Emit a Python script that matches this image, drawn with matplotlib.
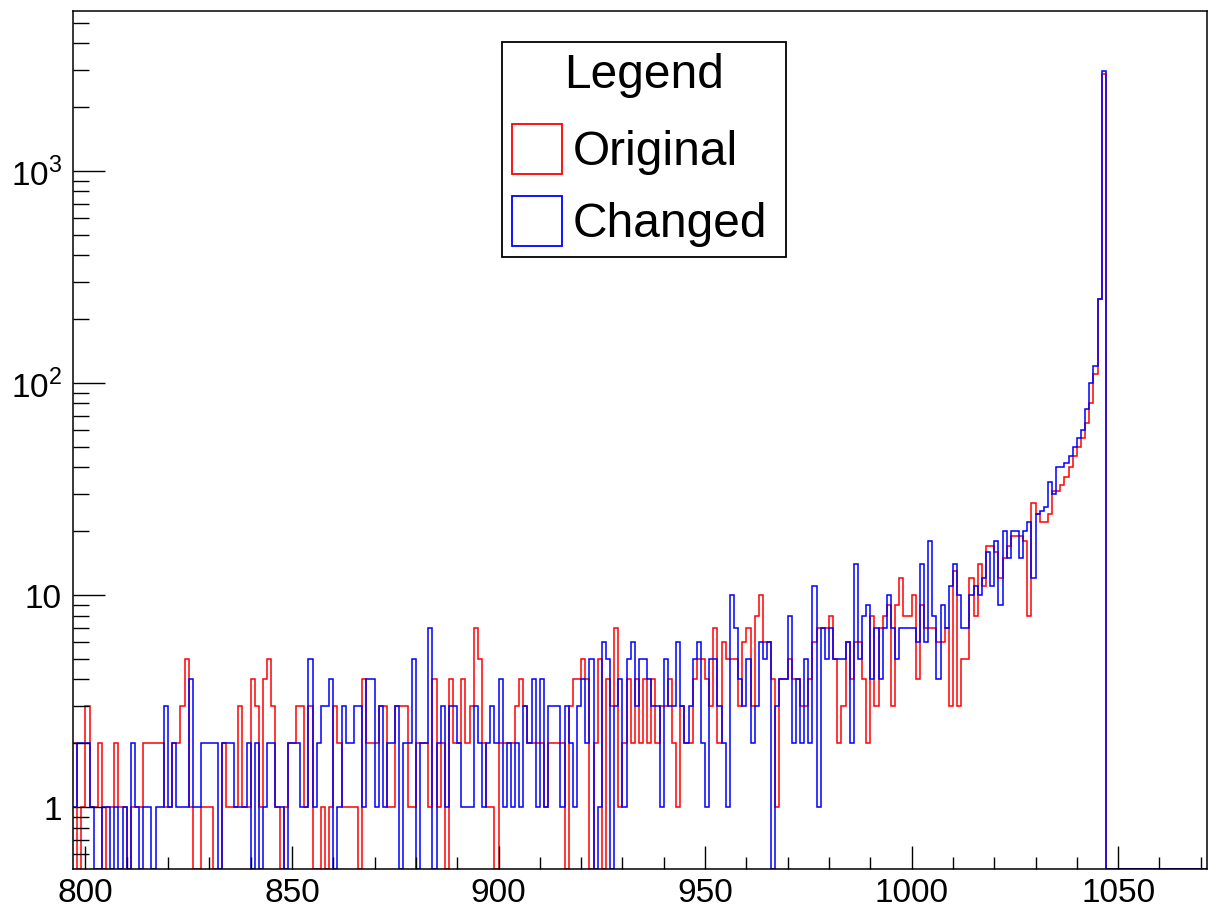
import numpy as np
import matplotlib
matplotlib.use('Agg')
import matplotlib.pyplot as plt
from matplotlib.patches import Rectangle
from matplotlib.transforms import Affine2D
from matplotlib.ticker import FixedLocator, FixedFormatter, MultipleLocator, NullFormatter

plt.rcParams['font.family'] = ['Liberation Sans', 'DejaVu Sans']
plt.rcParams['mathtext.fontset'] = 'custom'
plt.rcParams['mathtext.rm'] = 'Liberation Sans'

# ── Data: 1-unit bins starting at 797 ────────────────────────
first_bin = 797
original = [
    2, 0, 1, 3, 1, 1, 2, 0, 1, 1, 2, 1, 1, 0, 1, 1, 1, 2, 2, 2,          # 797-816
    2, 2, 1, 1, 2, 2, 3, 5, 1, 0,                                        # 817-826
    0, 1, 1, 1, 0, 0, 2, 1, 1, 1, 3, 1, 1, 4, 3, 1, 4, 5, 3, 1,          # 827-846
    0, 1, 2, 2, 3, 3, 1, 3, 0,                                           # 847-855
    0, 1, 0, 1, 3, 2, 1, 1, 1, 1, 0, 4, 2, 2, 2, 3, 3, 1, 1, 3,          # 856-875
    3, 3, 1, 1, 2, 2, 2, 1, 4,                                           # 876-884
    1, 2, 0, 4, 2, 2, 4, 2, 3, 7, 5, 2, 1, 1, 0, 2, 2, 2, 2, 3,          # 885-904
    4, 3, 2, 2, 2, 2, 1, 2, 2,                                           # 905-913
    2, 2, 0, 3, 4, 4, 5, 4, 0, 2, 5, 0, 4, 3, 7, 1, 2, 4, 2, 4,          # 914-933
    2, 4, 2, 4, 2, 3, 3,                                                 # 934-940
    4, 2, 1, 3, 2, 2, 4, 5, 5, 4, 3, 7, 2, 6, 5, 5, 5, 3, 6, 7,          # 941-960
    3, 8, 10, 6, 6, 4, 1, 4, 4,                                          # 961-969
    5, 4, 4, 3, 3, 4, 6, 7, 7, 7, 8, 5, 2, 3, 6, 4, 6, 6, 4, 2,          # 970-989
    8, 3, 7, 8, 9, 3, 9, 12, 8, 8,                                       # 990-999
    10, 4, 9, 7, 7, 7, 6, 6, 7, 3, 13, 3, 5, 5, 12, 8, 14, 11, 17, 17,   # 1000-1019
    16, 12, 15, 17, 19, 19, 19, 18, 8, 27, 24, 22, 22, 24, 31, 31, 33,   # 1020-1036
    36, 40, 45, 50, 55, 65, 80, 110, 250, 2850,                          # 1037-1046
]
changed = [
    1, 2, 2, 2, 1, 0, 0, 1, 1, 0, 1, 0, 1, 0, 2, 1, 0, 1, 1, 0,          # 797-816
    1, 1, 3, 1, 2, 1, 1, 1, 4, 1,                                        # 817-826
    1, 2, 2, 2, 2, 0, 2, 2, 2, 1, 1, 1, 2, 0, 2, 0, 1, 2, 2, 1,          # 827-846
    1, 0, 2, 2, 2, 1, 1, 5, 1,                                           # 847-855
    2, 3, 3, 4, 0, 1, 3, 2, 2, 3, 3, 1, 4, 4, 1, 3, 1, 2, 2, 3,          # 856-875
    0, 2, 2, 5, 0, 2, 2, 7, 0,                                           # 876-884
    2, 3, 1, 3, 3, 2, 1, 1, 1, 3, 2, 1, 2, 3, 2, 4, 1, 2, 1, 2,          # 885-904
    1, 3, 2, 4, 1, 4, 1, 3, 3,                                           # 905-913
    3, 1, 3, 2, 1, 3, 4, 2, 5, 0, 1, 6, 5, 0, 3, 4, 1, 5, 6, 3,          # 914-933
    5, 5, 4, 3, 3, 1, 5,                                                 # 934-940
    3, 3, 6, 3, 2, 3, 5, 6, 2, 1, 5, 5, 3, 2, 1, 10, 7, 4, 3, 5,         # 941-960
    2, 3, 6, 5, 6, 0, 3, 4, 4,                                           # 961-969
    8, 2, 4, 2, 5, 2, 11, 1, 7, 5, 7, 5, 5, 5, 6, 2, 14, 5, 8, 9,        # 970-989
    4, 7, 4, 7, 10, 7, 5, 7, 7, 7,                                       # 990-999
    7, 6, 14, 6, 18, 8, 4, 9, 7, 11, 14, 10, 7, 7, 10, 11, 10, 12, 16, 11,  # 1000-1019
    18, 9, 20, 15, 20, 20, 15, 20, 22, 12, 24, 25, 26, 34, 30, 40, 40,   # 1020-1036
    42, 45, 50, 55, 60, 75, 100, 120, 250, 2950,                         # 1037-1046
]
series_names = ['Original', 'Changed']
series_colors = ['#ff0000', '#0000ff']

x_range = (797, 1071.5)
y_range = (0.51, 5700)
x_major = [800, 850, 900, 950, 1000, 1050]
y_major = [1, 10, 100, 1000]
y_labels = ['1', '10', '$10^{2}$', '$10^{3}$']

# ── Figure ───────────────────────────────────────────────────
W, H = 1209, 912
fig = plt.figure(figsize=(W / 100, H / 100), dpi=100)
ax = fig.add_axes([73 / W, 1 - 870 / H, (1207 - 73) / W, (870 - 11.6) / H])

last_edge = int(np.ceil(x_range[1]))
edges = np.arange(first_bin, last_edge + 1)
for vals, col in zip([original, changed], series_colors):
    v = np.zeros(len(edges) - 1)
    v[:len(vals)] = vals
    # empty bins are drawn on the bottom of the frame, like ROOT does
    ax.stairs(np.clip(v, y_range[0], None), edges, color=col, lw=1.1, baseline=None)

ax.set_yscale('log')
ax.set_xlim(*x_range)
ax.set_ylim(*y_range)

ax.xaxis.set_major_locator(FixedLocator(x_major))
ax.xaxis.set_minor_locator(MultipleLocator(10))
ax.yaxis.set_major_locator(FixedLocator(y_major))
ax.yaxis.set_major_formatter(FixedFormatter(y_labels))
y_minor = [m * 10.0 ** e for e in range(-1, 4) for m in range(2, 10)]
ax.yaxis.set_minor_locator(FixedLocator(y_minor))
ax.yaxis.set_minor_formatter(NullFormatter())

ax.tick_params(axis='both', which='both', direction='in', top=False, right=False,
               width=1.0, labelsize=24)
ax.tick_params(axis='y', which='major', length=23, pad=8)
ax.tick_params(axis='y', which='minor', length=11.5)
ax.tick_params(axis='x', which='major', length=16.5, pad=6)
ax.tick_params(axis='x', which='minor', length=8.5)
for sp in ax.spines.values():
    sp.set_linewidth(1.1)

# ── Legend (ROOT-style box, pixel positions) ─────────────────
px = Affine2D().scale(1 / W, -1 / H).translate(0, 1) + fig.transFigure
fig.add_artist(Rectangle((502, 43), 284, 215, transform=px, fill=False,
                         ec='black', lw=1.3))
fig.text(644, 88, 'Legend', transform=px, ha='center', va='baseline', fontsize=34.5)
for i, (name, col) in enumerate(zip(series_names, series_colors)):
    top = 125 + i * 72
    fig.add_artist(Rectangle((512, top), 50, 50, transform=px, fill=False,
                             ec=col, lw=1.3))
    fig.text(573, top + 40, name, transform=px, ha='left', va='baseline',
             fontsize=34.5)

fig.savefig('out.png', dpi=100)
